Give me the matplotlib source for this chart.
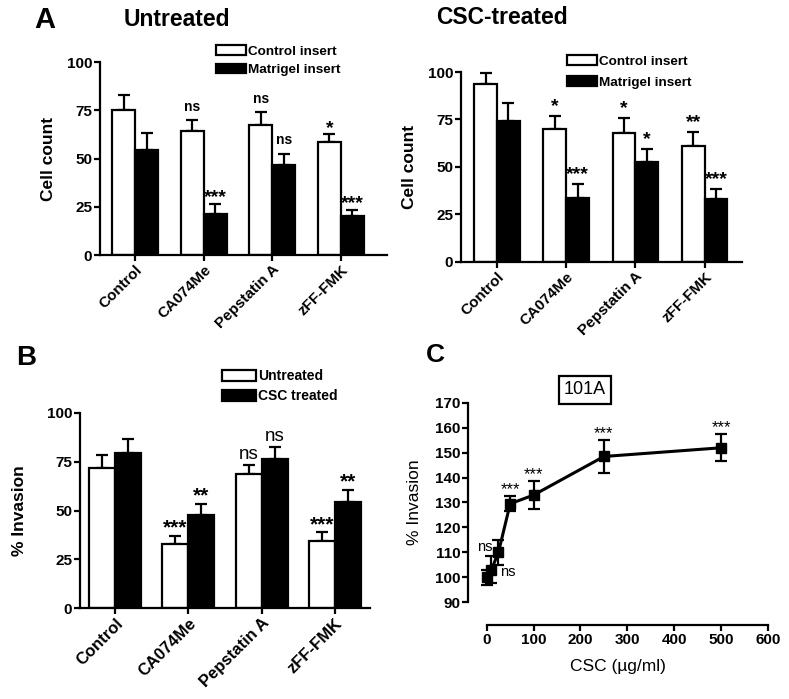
import numpy as np
import matplotlib
matplotlib.use("Agg")
from matplotlib import pyplot as plt
from matplotlib.patches import Patch

plt.rcParams['font.family'] = ['Liberation Sans', 'DejaVu Sans']

W, H = 789, 699

# data
groups = ["Control", "CA074Me", "Pepstatin A", "zFF-FMK"]

untreated_ctrl = [75, 64, 67.5, 58.5]
untreated_ctrl_err = [8, 6, 6.5, 4]
untreated_mat = [54.5, 21.5, 46.5, 20]
untreated_mat_err = [8.5, 5, 6, 3.5]
untreated_ctrl_sig = ["", "ns", "ns", "*"]
untreated_mat_sig = ["", "***", "ns", "***"]

csc_ctrl = [93.5, 70, 68, 61]
csc_ctrl_err = [6, 7, 8, 7.5]
csc_mat = [74, 33.5, 52.5, 33]
csc_mat_err = [9.5, 7.5, 7, 5.5]
csc_ctrl_sig = ["", "*", "*", "**"]
csc_mat_sig = ["", "***", "*", "***"]

inv_untreated = [72, 33, 68.5, 34.5]
inv_untreated_err = [6.5, 4, 5, 4.3]
inv_csc = [79.5, 47.5, 76.5, 54.5]
inv_csc_err = [7, 6, 6, 6]
inv_untreated_sig = ["", "***", "ns", "***"]
inv_csc_sig = ["", "**", "ns", "**"]

dose = [0, 10, 25, 50, 100, 250, 500]
dose_inv = [100, 103, 110, 129.5, 133, 148.5, 152]
dose_err = [3, 5.5, 5, 3, 5.5, 6.5, 5.5]
dose_sig = ["", "ns", "ns", "***", "***", "***", "***"]


def px_axes(left, right, top, bottom):
    return fig.add_axes([left / W, 1 - bottom / H, (right - left) / W, (bottom - top) / H])


def style_axes(ax, tick_size, xlab_size=None):
    for s in ("top", "right"):
        ax.spines[s].set_visible(False)
    for s in ("left", "bottom"):
        ax.spines[s].set_linewidth(1.6)
    ax.tick_params(width=1.6, length=4, pad=1.5, labelsize=tick_size)
    if xlab_size:
        ax.tick_params(axis="x", labelsize=xlab_size)
    for lab in ax.get_yticklabels() + ax.get_xticklabels():
        lab.set_fontweight("bold")


def bar_panel(ax, v1, e1, v2, e2, s1, s2, width, xlim, ylabel, cat_size,
              ns_style, star_size, ns_off, star_off, ylabel_pad):
    x = np.arange(len(groups))
    ax.bar(x - width / 2, v1, width, color="white", edgecolor="black", linewidth=1.6, zorder=2)
    ax.bar(x + width / 2, v2, width, color="black", edgecolor="black", linewidth=1.6, zorder=2)
    for xs, v, e in ((x - width / 2, v1, e1), (x + width / 2, v2, e2)):
        ax.errorbar(xs, v, yerr=[np.zeros(len(e)), e], fmt="none", ecolor="black",
                    elinewidth=1.6, capsize=4.5, capthick=1.6, clip_on=False, zorder=1)
    for xs, v, e, sig in ((x - width / 2, v1, e1, s1), (x + width / 2, v2, e2, s2)):
        for xi, vi, ei, si in zip(xs, v, e, sig):
            if not si:
                continue
            if si.startswith("*"):
                ax.annotate(si, xy=(xi, vi + ei), xytext=(0, star_off), textcoords="offset points",
                            ha="center", va="center", fontsize=star_size, fontweight="bold")
            else:
                ax.annotate(si, xy=(xi, vi + ei), xytext=(0, ns_off), textcoords="offset points",
                            ha="center", va="center", fontsize=ns_style[0], fontweight=ns_style[1])
    ax.set_xlim(*xlim)
    ax.set_ylim(0, 100)
    ax.set_yticks([0, 25, 50, 75, 100])
    ax.set_xticks(x)
    ax.set_xticklabels(groups, rotation=45, ha="right", rotation_mode="anchor")
    ax.set_ylabel(ylabel, fontsize=12.5, fontweight="bold", labelpad=ylabel_pad)
    style_axes(ax, 11, cat_size)


def add_legend(ax, labels, x, y, size, hlen, hheight, spacing):
    ax.legend(handles=[Patch(facecolor="white", edgecolor="black", linewidth=1.6),
                       Patch(facecolor="black", edgecolor="black", linewidth=1.6)],
              labels=labels, loc="upper left",
              bbox_to_anchor=(x / W, 1 - y / H), bbox_transform=fig.transFigure,
              frameon=False, prop={"weight": "bold", "size": size}, handlelength=hlen,
              handleheight=hheight, handletextpad=0.15, labelspacing=spacing,
              borderpad=0, borderaxespad=0)


fig = plt.figure(figsize=(W / 100, H / 100), dpi=100)

# panel A, untreated
ax1 = px_axes(100, 387, 62, 255)
bar_panel(ax1, untreated_ctrl, untreated_ctrl_err, untreated_mat, untreated_mat_err,
          untreated_ctrl_sig, untreated_mat_sig, 0.335, (-0.51, 3.67), "Cell count", 11,
          (10, "bold"), 14, 9.5, 4.5, 8)
add_legend(ax1, ["Control insert", "Matrigel insert"], 216, 45, 9.7, 2.2, 0.74, 0.45)

# panel A, CSC-treated
ax2 = px_axes(461, 742, 72, 262)
bar_panel(ax2, csc_ctrl, csc_ctrl_err, csc_mat, csc_mat_err,
          csc_ctrl_sig, csc_mat_sig, 0.33, (-0.52, 3.54), "Cell count", 11,
          (10, "bold"), 14, 9.5, 6.5, 8)
add_legend(ax2, ["Control insert", "Matrigel insert"], 567, 55, 9.7, 2.2, 0.74, 0.65)

# panel B
ax3 = px_axes(80, 370, 413, 608)
bar_panel(ax3, inv_untreated, inv_untreated_err, inv_csc, inv_csc_err,
          inv_untreated_sig, inv_csc_sig, 0.355, (-0.48, 3.48), "% Invasion", 12,
          (13.5, "normal"), 15, 7.5, 5.5, 14)
add_legend(ax3, ["Untreated", "CSC treated"], 222, 369, 10, 2.45, 0.86, 0.45)

# panel C
ax4 = px_axes(468, 768, 403, 602)
ax4.errorbar(dose, dose_inv, yerr=dose_err, color="black", linewidth=2.2, marker="s",
             markersize=7, ecolor="black", elinewidth=1.6, capsize=4.5, capthick=1.6, clip_on=False)
for d, v, e, s in zip(dose, dose_inv, dose_err, dose_sig):
    if s == "***":
        ax4.annotate(s, xy=(d, v + e), xytext=(0, 4.5), textcoords="offset points",
                     ha="center", va="center", fontsize=12)
ax4.annotate(dose_sig[1], xy=(dose[1], dose_inv[1]), xytext=(-5, 16), textcoords="offset points",
             ha="center", va="center", fontsize=10.5)
ax4.annotate(dose_sig[2], xy=(dose[2], dose_inv[2]), xytext=(7, -14.5), textcoords="offset points",
             ha="center", va="center", fontsize=10.5)
ax4.set_xlim(-40, 600)
ax4.set_ylim(90, 170)
ax4.set_yticks(np.arange(90, 171, 10))
ax4.set_xticks(np.arange(0, 601, 100))
ax4.spines["bottom"].set_position(("outward", 16.5))
ax4.spines["bottom"].set_bounds(0, 600)
ax4.set_ylabel("% Invasion", fontsize=12.5, labelpad=9)
ax4.set_xlabel("CSC (\u00b5g/ml)", fontsize=12.5, labelpad=9)
style_axes(ax4, 11)

# panel letters and titles
fig.text(45 / W, 1 - 20 / H, "A", fontsize=21, fontweight="bold", ha="center", va="center")
fig.text(177 / W, 1 - 19 / H, "Untreated", fontsize=16.5, fontweight="bold", ha="center", va="center")
fig.text(502 / W, 1 - 18 / H, "CSC-treated", fontsize=16.5, fontweight="bold", ha="center", va="center")
fig.text(26 / W, 1 - 358 / H, "B", fontsize=20, fontweight="bold", ha="center", va="center")
fig.text(435 / W, 1 - 355 / H, "C", fontsize=19, fontweight="bold", ha="center", va="center")
fig.text(585 / W, 1 - 390 / H, "101A", fontsize=13, ha="center", va="center",
         bbox=dict(boxstyle="square,pad=0.3", facecolor="white", edgecolor="black", linewidth=1.6))

fig.savefig("out.png", dpi=100)
